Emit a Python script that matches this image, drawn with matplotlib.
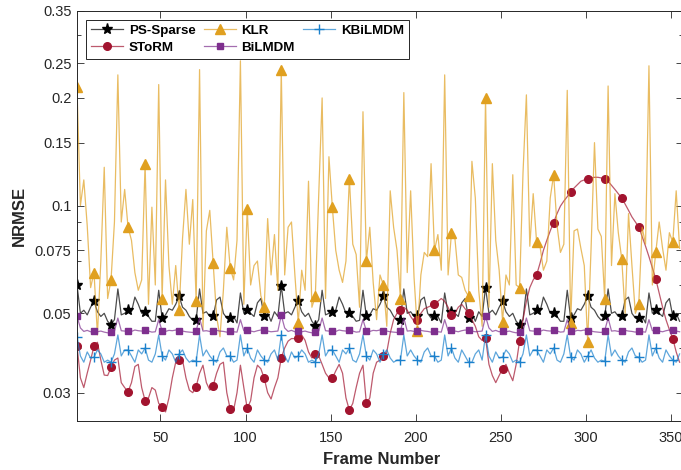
import matplotlib
matplotlib.use("Agg")

import matplotlib.pyplot as plt
from matplotlib.colors import to_rgba
from matplotlib.ticker import FixedLocator, NullFormatter

plt.rcParams["font.family"] = ["Liberation Sans", "DejaVu Sans"]

# frame numbers (every second frame), markers every 10 frames
frames = list(range(1, 356, 2))

ps_sparse = [
    0.060, 0.050, 0.051, 0.0495, 0.052, 0.054, 0.0505, 0.049, 0.050, 0.0475,
    0.0465, 0.048, 0.0585, 0.0495, 0.050, 0.051, 0.0505, 0.0555, 0.053, 0.050,
    0.0505, 0.049, 0.0475, 0.0475, 0.058, 0.0485, 0.0495, 0.0515, 0.051, 0.053,
    0.0558, 0.052, 0.051, 0.049, 0.0478, 0.048, 0.0585, 0.050, 0.0505, 0.049,
    0.049, 0.0545, 0.0555, 0.050, 0.0485, 0.0485, 0.049, 0.047, 0.057, 0.050,
    0.051, 0.050, 0.049, 0.0535, 0.055, 0.049, 0.050, 0.0475, 0.0505, 0.049,
    0.0597, 0.050, 0.0505, 0.0495, 0.052, 0.054, 0.0505, 0.049, 0.050, 0.0475,
    0.0462, 0.048, 0.058, 0.0495, 0.050, 0.0505, 0.051, 0.0555, 0.053, 0.050,
    0.050, 0.049, 0.0475, 0.0478, 0.058, 0.049, 0.0495, 0.0515, 0.051, 0.053,
    0.0558, 0.052, 0.051, 0.049, 0.0478, 0.048, 0.0585, 0.050, 0.0505, 0.049,
    0.049, 0.0545, 0.0555, 0.050, 0.0485, 0.049, 0.049, 0.047, 0.057, 0.050,
    0.0505, 0.050, 0.049, 0.0535, 0.055, 0.0485, 0.050, 0.0475, 0.0505, 0.049,
    0.059, 0.050, 0.051, 0.0495, 0.052, 0.054, 0.0505, 0.049, 0.050, 0.0475,
    0.0465, 0.048, 0.0585, 0.0495, 0.050, 0.051, 0.0505, 0.0555, 0.053, 0.050,
    0.050, 0.049, 0.0475, 0.0475, 0.058, 0.0485, 0.0495, 0.0515, 0.051, 0.053,
    0.0558, 0.052, 0.051, 0.049, 0.0478, 0.049, 0.0585, 0.050, 0.0505, 0.049,
    0.049, 0.0545, 0.0555, 0.050, 0.0485, 0.0485, 0.049, 0.047, 0.057, 0.050,
    0.051, 0.050, 0.049, 0.0535, 0.055, 0.049, 0.050, 0.0475,
]

storm = [
    0.0406, 0.033, 0.031, 0.034, 0.037, 0.0405, 0.0415, 0.037, 0.0336, 0.0335,
    0.0353, 0.037, 0.0375, 0.032, 0.031, 0.0302, 0.032, 0.0355, 0.036, 0.031,
    0.0285, 0.029, 0.031, 0.0305, 0.028, 0.0274, 0.0265, 0.029, 0.033, 0.0365,
    0.037, 0.037, 0.033, 0.0305, 0.030, 0.0312, 0.034, 0.0358, 0.032, 0.0305,
    0.0314, 0.034, 0.036, 0.0365, 0.030, 0.027, 0.0268, 0.030, 0.0358, 0.031,
    0.0271, 0.0285, 0.033, 0.0358, 0.035, 0.0329, 0.030, 0.0288, 0.031, 0.033,
    0.0375, 0.040, 0.0418, 0.0425, 0.0425, 0.0427, 0.0435, 0.042, 0.039, 0.0375,
    0.0385, 0.038, 0.036, 0.034, 0.033, 0.0329, 0.0345, 0.036, 0.034, 0.029,
    0.0268, 0.028, 0.031, 0.034, 0.0358, 0.028, 0.029, 0.034, 0.0365, 0.037,
    0.038, 0.039, 0.044, 0.048, 0.050, 0.051, 0.052, 0.051, 0.049, 0.0475,
    0.048, 0.050, 0.0515, 0.052, 0.0525, 0.053, 0.054, 0.055, 0.054, 0.052,
    0.0495, 0.050, 0.052, 0.053, 0.0515, 0.050, 0.048, 0.046, 0.043, 0.042,
    0.0427, 0.036, 0.0335, 0.032, 0.0335, 0.035, 0.036, 0.034, 0.0324, 0.036,
    0.0419, 0.048, 0.054, 0.059, 0.062, 0.064, 0.069, 0.075, 0.080, 0.085,
    0.0897, 0.095, 0.0997, 0.103, 0.106, 0.109, 0.112, 0.1145, 0.117, 0.118,
    0.119, 0.1195, 0.120, 0.120, 0.1195, 0.119, 0.117, 0.114, 0.111, 0.108,
    0.105, 0.101, 0.097, 0.093, 0.090, 0.0872, 0.082, 0.077, 0.072, 0.067,
    0.0624, 0.057, 0.052, 0.048, 0.045, 0.0425, 0.039, 0.0365,
]

klr = [
    0.214, 0.100, 0.118, 0.088, 0.059, 0.065, 0.0435, 0.070, 0.128, 0.055,
    0.062, 0.090, 0.232, 0.090, 0.111, 0.087, 0.080, 0.065, 0.058, 0.062,
    0.131, 0.053, 0.099, 0.060, 0.218, 0.055, 0.118, 0.068, 0.053, 0.068,
    0.051, 0.081, 0.111, 0.078, 0.104, 0.054, 0.240, 0.045, 0.085, 0.097,
    0.069, 0.049, 0.043, 0.058, 0.087, 0.067, 0.062, 0.080, 0.254, 0.053,
    0.098, 0.060, 0.068, 0.070, 0.056, 0.052, 0.092, 0.064, 0.083, 0.058,
    0.240, 0.064, 0.087, 0.090, 0.064, 0.047, 0.066, 0.058, 0.117, 0.052,
    0.0558, 0.107, 0.200, 0.055, 0.137, 0.099, 0.075, 0.066, 0.061, 0.070,
    0.119, 0.078, 0.073, 0.052, 0.183, 0.070, 0.087, 0.061, 0.048, 0.064,
    0.060, 0.046, 0.110, 0.087, 0.075, 0.055, 0.207, 0.065, 0.110, 0.063,
    0.0445, 0.064, 0.074, 0.072, 0.131, 0.075, 0.083, 0.066, 0.232, 0.064,
    0.084, 0.081, 0.064, 0.063, 0.058, 0.0558, 0.133, 0.105, 0.058, 0.046,
    0.200, 0.052, 0.131, 0.080, 0.066, 0.0474, 0.064, 0.060, 0.122, 0.060,
    0.059, 0.123, 0.204, 0.077, 0.108, 0.079, 0.077, 0.066, 0.070, 0.105,
    0.122, 0.088, 0.074, 0.078, 0.210, 0.047, 0.085, 0.086, 0.076, 0.068,
    0.0416, 0.076, 0.150, 0.086, 0.082, 0.0548, 0.216, 0.068, 0.108, 0.084,
    0.071, 0.050, 0.095, 0.068, 0.050, 0.053, 0.087, 0.078, 0.246, 0.060,
    0.074, 0.090, 0.076, 0.066, 0.084, 0.079, 0.110, 0.076,
]

bilmdm = [
    0.049, 0.0455, 0.0445, 0.0448, 0.0444, 0.0447, 0.0444, 0.0446, 0.0443, 0.0441,
    0.0443, 0.0446, 0.0485, 0.0447, 0.0446, 0.0447, 0.0445, 0.0449, 0.0447, 0.0446,
    0.0449, 0.0446, 0.0443, 0.0444, 0.048, 0.0446, 0.0445, 0.0448, 0.0447, 0.0449,
    0.0445, 0.0446, 0.0444, 0.0443, 0.0442, 0.0447, 0.0485, 0.0446, 0.0447, 0.0445,
    0.0447, 0.0448, 0.0446, 0.0445, 0.0443, 0.0447, 0.0444, 0.0443, 0.048, 0.0447,
    0.0448, 0.0446, 0.0444, 0.0447, 0.0449, 0.0448, 0.0446, 0.0444, 0.0445, 0.0446,
    0.0494, 0.0455, 0.0445, 0.0448, 0.0444, 0.0447, 0.0444, 0.0446, 0.0443, 0.0441,
    0.0443, 0.0446, 0.0485, 0.0447, 0.0446, 0.0447, 0.0445, 0.0449, 0.0447, 0.0446,
    0.0449, 0.0446, 0.0443, 0.0444, 0.048, 0.0446, 0.0445, 0.0448, 0.0447, 0.0449,
    0.0445, 0.0446, 0.0444, 0.0443, 0.0442, 0.0447, 0.0485, 0.0446, 0.0447, 0.0445,
    0.0447, 0.0448, 0.0446, 0.0445, 0.0443, 0.0447, 0.0444, 0.0443, 0.048, 0.0447,
    0.0448, 0.0446, 0.0444, 0.0447, 0.0449, 0.0448, 0.0446, 0.0444, 0.0445, 0.0446,
    0.049, 0.0455, 0.0445, 0.0448, 0.0444, 0.0447, 0.0444, 0.0446, 0.0443, 0.0441,
    0.0443, 0.0446, 0.0485, 0.0447, 0.0446, 0.0447, 0.0445, 0.0449, 0.0447, 0.0446,
    0.0449, 0.0446, 0.0443, 0.0444, 0.048, 0.0446, 0.0445, 0.0448, 0.0447, 0.0449,
    0.0445, 0.0446, 0.0444, 0.0443, 0.0442, 0.0447, 0.0485, 0.0446, 0.0447, 0.0445,
    0.0447, 0.0448, 0.0446, 0.0445, 0.0443, 0.0447, 0.0444, 0.0443, 0.048, 0.0447,
    0.0448, 0.0446, 0.0444, 0.0447, 0.0449, 0.0448, 0.0446, 0.0444,
]

kbilmdm = [
    0.043, 0.038, 0.0365, 0.039, 0.0375, 0.0377, 0.0395, 0.0385, 0.0365, 0.037,
    0.0365, 0.0385, 0.0435, 0.038, 0.0395, 0.0395, 0.038, 0.0365, 0.0395, 0.0385,
    0.040, 0.037, 0.0365, 0.0385, 0.0435, 0.038, 0.037, 0.0395, 0.0385, 0.0365,
    0.0385, 0.0395, 0.0375, 0.0365, 0.037, 0.0367, 0.0435, 0.038, 0.0395, 0.038,
    0.037, 0.0365, 0.039, 0.040, 0.038, 0.038, 0.0365, 0.037, 0.0435, 0.038,
    0.040, 0.0375, 0.0365, 0.0395, 0.038, 0.037, 0.0365, 0.0385, 0.0395, 0.037,
    0.0435, 0.038, 0.0365, 0.039, 0.0375, 0.038, 0.0395, 0.0385, 0.0365, 0.037,
    0.0365, 0.0385, 0.0435, 0.038, 0.0395, 0.0395, 0.038, 0.0365, 0.0395, 0.0385,
    0.040, 0.037, 0.0365, 0.0385, 0.0435, 0.038, 0.037, 0.0395, 0.0385, 0.0365,
    0.0385, 0.0395, 0.0375, 0.0365, 0.037, 0.037, 0.0435, 0.038, 0.0395, 0.038,
    0.037, 0.0365, 0.039, 0.040, 0.038, 0.038, 0.0365, 0.037, 0.0435, 0.038,
    0.040, 0.0375, 0.0365, 0.0395, 0.038, 0.0365, 0.0365, 0.0385, 0.0395, 0.037,
    0.0435, 0.038, 0.0365, 0.039, 0.0375, 0.0377, 0.0395, 0.0385, 0.0365, 0.037,
    0.0365, 0.0385, 0.0435, 0.038, 0.0395, 0.0395, 0.038, 0.0365, 0.0395, 0.0385,
    0.040, 0.037, 0.0365, 0.0385, 0.0435, 0.0377, 0.037, 0.0395, 0.0385, 0.0365,
    0.038, 0.0395, 0.0375, 0.0365, 0.037, 0.0367, 0.0435, 0.038, 0.0395, 0.038,
    0.037, 0.0365, 0.039, 0.040, 0.038, 0.0377, 0.0365, 0.037, 0.0435, 0.038,
    0.040, 0.0375, 0.0365, 0.0395, 0.038, 0.037, 0.0365, 0.0385,
]

# name, values, colour, marker, marker size
series = [
    ("PS-Sparse", ps_sparse, "#000000", "*", 8),
    ("SToRM", storm, "#A2142F", "o", 5.5),
    ("KLR", klr, "#E0A020", "^", 6.5),
    ("BiLMDM", bilmdm, "#7E2F8E", "s", 4.5),
    ("KBiLMDM", kbilmdm, "#1A80CC", "+", 7),
]

fig = plt.figure(figsize=(6.81, 4.70), dpi=100)
ax = fig.add_axes([77 / 681, 49 / 470, 606 / 681, 410 / 470])
ax.set_yscale("log")

for name, vals, col, mk, ms in series:
    ax.plot(frames, vals, color=to_rgba(col, 0.7), lw=0.9, marker=mk, ms=ms,
            markevery=5, mfc=col, mec=col, mew=1.0, label=name)

ax.set_xlim(1, 357)
ax.set_ylim(0.025, 0.35)
ax.set_xticks([50, 100, 150, 200, 250, 300, 350])
yt = [0.03, 0.05, 0.075, 0.1, 0.15, 0.2, 0.25, 0.35]
ax.set_yticks(yt)
ax.set_yticklabels(["0.03", "0.05", "0.075", "0.1", "0.15", "0.2", "0.25", "0.35"])
ax.yaxis.set_minor_locator(FixedLocator([0.04, 0.06, 0.07, 0.08, 0.09, 0.3]))
ax.yaxis.set_minor_formatter(NullFormatter())

ax.tick_params(which="both", direction="in", top=True, right=True,
               color="#262626", labelcolor="#262626", width=0.6)
ax.tick_params(which="major", length=5, labelsize=10.5)
ax.tick_params(which="minor", length=3)
ax.tick_params(axis="x", pad=7)
ax.tick_params(axis="y", pad=4)
for sp in ax.spines.values():
    sp.set_color("#262626")
    sp.set_linewidth(0.7)

ax.set_xlabel("Frame Number", fontsize=12, fontweight="bold", color="#262626")
ax.set_ylabel("NRMSE", fontsize=12, fontweight="bold", color="#262626")
ax.xaxis.set_label_coords(0.503, -0.075)
ax.yaxis.set_label_coords(-0.082, 0.5)

leg = ax.legend(ncol=3, loc="upper left", bbox_to_anchor=(0.015, 0.978),
                borderaxespad=0, fancybox=False, framealpha=1,
                prop={"weight": "bold", "size": 9.6}, handlelength=2.4,
                handletextpad=0.45, columnspacing=0.6, labelspacing=0.35,
                borderpad=0.35)
leg.get_frame().set_edgecolor("#262626")
leg.get_frame().set_linewidth(0.7)

fig.savefig("out.png", dpi=100)
